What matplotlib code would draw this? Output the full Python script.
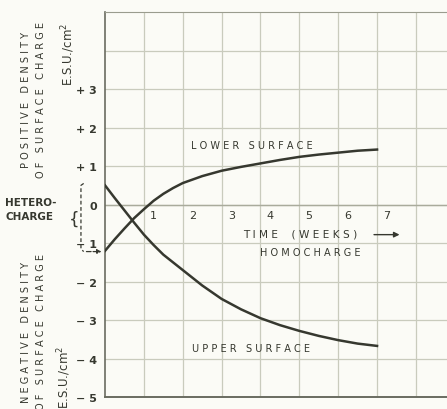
import numpy as np
import matplotlib.pyplot as plt

# values (weeks)
weeks = [0, 0.25, 0.5, 0.75, 1, 1.25, 1.5, 1.75, 2, 2.5, 3, 3.5, 4, 4.5, 5, 5.5, 6, 6.5, 7]
lower_surface = [-1.2, -0.9, -0.62, -0.35, -0.12, 0.1, 0.28, 0.43, 0.56, 0.74, 0.88, 0.98,
                 1.07, 1.16, 1.24, 1.3, 1.35, 1.4, 1.43]
upper_surface = [0.5, 0.17, -0.15, -0.47, -0.78, -1.05, -1.3, -1.5, -1.7, -2.1, -2.45, -2.72,
                 -2.95, -3.13, -3.28, -3.41, -3.52, -3.61, -3.67]

y_ticks = [3, 2, 1, 0, -1, -2, -3, -4, -5]
y_labels = ['+ 3', '+ 2', '+ 1', '0', '\u2212 1', '\u2212 2', '\u2212 3', '\u2212 4', '\u2212 5']
x_ticks = [1, 2, 3, 4, 5, 6, 7]

ink = '#36382f'
grid_c = '#c9cbbd'
paper = '#fbfbf6'


def spaced(s, gap='   '):
    # letter-spaced lettering like the original drawing
    return gap.join(' '.join(w) for w in s.split(' '))


fig = plt.figure(figsize=(4.47, 4.10), dpi=100, facecolor=paper)
ax = fig.add_axes([0.235, 0.029, 0.765, 0.939], facecolor=paper)
ax.set_xlim(0, 8.8)
ax.set_ylim(-5, 5)

for y in range(-4, 5):
    ax.axhline(y, color=grid_c, lw=0.9, zorder=1)
for x in range(1, 9):
    ax.axvline(x, color=grid_c, lw=0.9, zorder=1)
ax.axhline(0, color='#a9ab9c', lw=1.0, zorder=1)

ax.plot(weeks, lower_surface, color=ink, lw=1.8, zorder=3)
ax.plot(weeks, upper_surface, color=ink, lw=1.8, zorder=3)

ax.spines['right'].set_visible(False)
ax.spines['top'].set_color('#9a9c8e')
ax.spines['left'].set_color('#6a6c60')
ax.spines['bottom'].set_color('#6a6c60')
ax.spines['left'].set_linewidth(1.2)
ax.spines['bottom'].set_linewidth(1.4)

ax.set_xticks([])
ax.set_yticks(y_ticks)
ax.set_yticklabels(y_labels, fontsize=8, color=ink, fontweight='bold')
ax.tick_params(axis='y', length=0, pad=6)

for w in x_ticks:
    ax.text(w + 0.25, -0.15, str(w), fontsize=8, color=ink, ha='center', va='top')

tk = dict(color=ink, fontsize=7)
ax.text(2.2, 1.55, spaced('LOWER SURFACE'), ha='left', va='center', **tk)
ax.text(3.55, -0.75, spaced('TIME (WEEKS)', '    '), ha='left', va='center',
        color=ink, fontsize=7.6)
ax.annotate('', xy=(7.65, -0.78), xytext=(6.85, -0.78),
            arrowprops=dict(arrowstyle='-|>', color=ink, lw=1.0, mutation_scale=8))
ax.text(4.0, -1.22, spaced('HOMOCHARGE'), ha='left', va='center', **tk)
ax.text(2.25, -3.72, spaced('UPPER SURFACE'), ha='left', va='center', **tk)

# side labels
ft = dict(color=ink, fontsize=7, rotation=90, ha='center', va='center')
fig.text(0.075, 0.755, spaced('POSITIVE DENSITY') + '\n' + spaced('OF SURFACE CHARGE'),
         linespacing=1.55, **ft)
fig.text(0.153, 0.866, r'E.S.U./$\mathregular{cm^2}$', **dict(ft, fontsize=8.5))
fig.text(0.075, 0.19, spaced('NEGATIVE DENSITY') + '\n' + spaced('OF SURFACE CHARGE'),
         linespacing=1.55, **ft)
fig.text(0.143, 0.08, r'E.S.U./$\mathregular{cm^2}$', **dict(ft, fontsize=8.5))

fig.text(0.012, 0.487, 'HETERO-\nCHARGE', color=ink, fontsize=7.5, fontweight='bold',
         ha='left', va='center', linespacing=1.5)
fig.text(0.165, 0.465, '{', color=ink, fontsize=12, ha='center', va='center')

# dashed bracket
ax.plot([-0.55, -0.62, -0.62, -0.55], [0.55, 0.5, -1.15, -1.22], color=ink, lw=0.9,
        ls=(0, (3, 2)), clip_on=False, zorder=3)
ax.annotate('', xy=(-0.02, -1.22), xytext=(-0.55, -1.22),
            arrowprops=dict(arrowstyle='-|>', color=ink, lw=0.9, ls='--', mutation_scale=6),
            annotation_clip=False)

fig.savefig('out.png', dpi=100, facecolor=paper)
